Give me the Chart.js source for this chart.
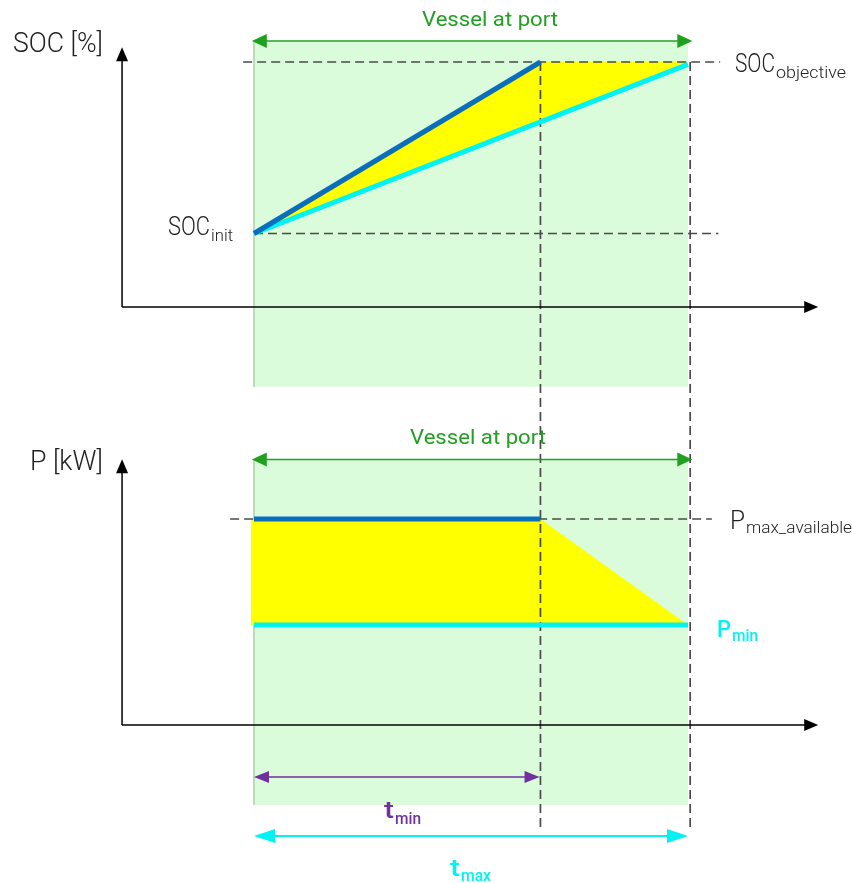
<!DOCTYPE html>
<html><head><meta charset="utf-8">
<script src="https://cdn.jsdelivr.net/npm/chart.js@4.4.1/dist/chart.umd.min.js"></script>
<style>html,body{margin:0;padding:0;background:#fff}#wrap{width:852px;height:883px}</style>
</head><body><div id="wrap"><canvas id="c" width="852" height="883"></canvas></div>
<script>
// ---- data (schematic units) ----
const timePoints = [0, 6.6, 10];          // t=0 (arrival), t_min, t_max
const socLevels = [30, 100];              // SOC_init, SOC_objective  [%]
const pLevels = [100, 48.5];              // P_max_available, P_min  [kW]
const socFastT = [0, 6.6], socFastV = [30, 100];
const socSlowT = [0, 10],  socSlowV = [30, 99];
const pFastT = [0, 6.6],   pFastV = [100, 100];
const pSlowT = [0, 10],    pSlowV = [48.5, 48.5];
const labels = ['SOC [%]', 'P [kW]', 'Vessel at port'];

const pts = (xs, ys) => xs.map((x, i) => ({x, y: ys[i]}));
const C = {dark:'#0A6EBD', cyan:'#00F2F2', yellow:'#FFFF00', green:'#DAFCDA', greenDark:'#1FA01F', purple:'#7030A0', dash:'#4A4A4A'};

function lineDs(data, axis, color, width, order, dash) {
  return {type:'scatter', data, yAxisID:axis, showLine:true, borderColor:color, borderWidth:width,
    pointRadius:0, fill:false, order, borderDash:dash||[], borderCapStyle:'butt', clip:false, tension:0};
}
function shapeDs(data, axis, color, order) {
  return {type:'scatter', data, yAxisID:axis, showLine:true, borderWidth:0, borderColor:'rgba(0,0,0,0)',
    backgroundColor:color, pointRadius:0, fill:'shape', order, clip:false, tension:0};
}
const [t0, tMin, tMax] = timePoints;
const [socInit, socObj] = socLevels;
const [pMaxA, pMin] = pLevels;

const datasets = [
  // port windows (green)
  shapeDs(pts([t0, tMax, tMax, t0], [108.2, 108.2, -32.6, -32.6]), 'ySoc', C.green, 20),
  shapeDs(pts([t0, tMax, tMax, t0], [128.6, 128.6, -38.8, -38.8]), 'yP', C.green, 20),
  lineDs(pts([t0, t0], [108.2, -32.6]), 'ySoc', '#B5D5B5', 1, 19),
  lineDs(pts([t0, t0], [128.6, -38.8]), 'yP', '#B5D5B5', 1, 19),
  // flexibility (yellow)
  shapeDs(pts([socFastT[0], socFastT[1], socSlowT[1]], [socFastV[0], socFastV[1], socObj]), 'ySoc', C.yellow, 15),
  shapeDs(pts([-0.07, tMin, tMax, -0.07], [pMaxA, pMaxA, pMin, pMin]), 'yP', C.yellow, 15),
  // dashed references
  lineDs(pts([-0.25, 10.74], [socObj, socObj]), 'ySoc', C.dash, 1.7, 10, [9, 5]),
  lineDs(pts([t0, 10.7], [socInit, socInit]), 'ySoc', C.dash, 1.7, 10, [9, 5]),
  lineDs(pts([-0.55, 10.55], [pMaxA, pMaxA]), 'yP', C.dash, 1.7, 10, [9, 5]),
  lineDs(pts([tMin, tMin], [socObj, -213.5]), 'ySoc', C.dash, 1.7, 10, [9, 5]),
  lineDs(pts([10.05, 10.05], [socObj, -213.5]), 'ySoc', C.dash, 1.7, 10, [9, 5]),
  // trajectories
  lineDs(pts(socSlowT, socSlowV), 'ySoc', C.cyan, 5, 3),
  lineDs(pts(socFastT, socFastV), 'ySoc', C.dark, 5, 2),
  lineDs(pts(pSlowT, pSlowV), 'yP', C.cyan, 5, 3),
  lineDs(pts(pFastT, pFastV), 'yP', C.dark, 5, 2),
];

function head(ctx, x, y, dir, len, w, color) {
  ctx.save(); ctx.fillStyle = color; ctx.beginPath();
  if (dir === 'up') { ctx.moveTo(x, y); ctx.lineTo(x - w/2, y + len); ctx.lineTo(x + w/2, y + len); }
  if (dir === 'right') { ctx.moveTo(x, y); ctx.lineTo(x - len, y - w/2); ctx.lineTo(x - len, y + w/2); }
  if (dir === 'left') { ctx.moveTo(x, y); ctx.lineTo(x + len, y - w/2); ctx.lineTo(x + len, y + w/2); }
  ctx.closePath(); ctx.fill(); ctx.restore();
}
function seg(ctx, x1, y1, x2, y2, color, w) {
  ctx.save(); ctx.strokeStyle = color; ctx.lineWidth = w; ctx.beginPath();
  ctx.moveTo(x1, y1); ctx.lineTo(x2, y2); ctx.stroke(); ctx.restore();
}
function dbl(ctx, x1, x2, y, color, w, len, hw) {
  seg(ctx, x1 + len - 2, y, x2 - len + 2, y, color, w);
  head(ctx, x1, y, 'left', len, hw, color); head(ctx, x2, y, 'right', len, hw, color);
}
function txt(ctx, s, x, y, size, color, weight, align, width) {
  ctx.save(); ctx.font = `${weight} ${size}px Roboto`; ctx.fillStyle = color; ctx.textBaseline = 'alphabetic';
  const m = ctx.measureText(s).width; const sx = width ? width / m : 1;
  let left = x; if (align === 'right') left = x - m * sx; if (align === 'center') left = x - m * sx / 2;
  ctx.translate(left, y); ctx.scale(sx, 1); ctx.fillText(s, 0, 0); ctx.restore();
  return left + m * sx;
}

const overlay = {
  id: 'overlay',
  afterDatasetsDraw(chart) {
    const ctx = chart.ctx, sx = chart.scales.x, ys = chart.scales.ySoc, yp = chart.scales.yP;
    const X = v => sx.getPixelForValue(v), YS = v => ys.getPixelForValue(v), YP = v => yp.getPixelForValue(v);
    const ax = X(-3.04), axEnd = X(13.0);
    // SOC axes
    seg(ctx, ax, YS(0), ax, YS(104), '#000', 1.5); head(ctx, ax, YS(106), 'up', 14, 12, '#000');
    seg(ctx, ax, YS(0), axEnd - 12, YS(0), '#000', 1.5); head(ctx, axEnd, YS(0), 'right', 14, 12, '#000');
    // P axes
    seg(ctx, ax, YP(0), ax, YP(124), '#000', 1.5); head(ctx, ax, YP(129), 'up', 14, 12, '#000');
    seg(ctx, ax, YP(0), axEnd - 12, YP(0), '#000', 1.5); head(ctx, axEnd, YP(0), 'right', 14, 12, '#000');
    // port window arrows
    dbl(ctx, X(-0.05), X(10.1), YS(108.6), C.greenDark, 1.5, 15, 14);
    dbl(ctx, X(-0.05), X(10.1), YP(128.9), C.greenDark, 1.5, 15, 14);
    // t arrows
    dbl(ctx, X(0), X(tMin - 0.02), YP(-25.2), C.purple, 1.5, 15, 12);
    dbl(ctx, X(0), X(tMax), YP(-53.9), C.cyan, 2, 21, 14);
    // texts
    txt(ctx, labels[0], 13, 52, 27, '#222', 300, 'left', 90);
    txt(ctx, labels[1], 30, 470, 27, '#222', 300, 'left', 73);
    txt(ctx, labels[2], 490, 26, 21, '#22A022', 400, 'center', 136);
    txt(ctx, labels[2], 478, 444, 21, '#22A022', 400, 'center', 136);
    let e = txt(ctx, 'SOC', 735, 72, 25, '#222', 300, 'left', 40);
    txt(ctx, 'objective', e + 1, 78, 17, '#222', 300, 'left', 70);
    e = txt(ctx, 'SOC', 168, 235, 25, '#222', 300, 'left', 42);
    txt(ctx, 'init', e + 1, 241, 17, '#222', 300, 'left', 22);
    e = txt(ctx, 'P', 730, 529, 25, '#222', 300, 'left', 15);
    txt(ctx, 'max_available', e + 1, 533, 17, '#222', 300, 'left', 106);
    e = txt(ctx, 'P', 717, 637, 24, C.cyan, 500, 'left', 14);
    txt(ctx, 'min', e + 1, 641, 17, C.cyan, 500, 'left', 26);
    e = txt(ctx, 't', 384, 818, 24, C.purple, 500, 'left', 10);
    txt(ctx, 'min', e + 1, 824, 17, C.purple, 500, 'left', 26);
    e = txt(ctx, 't', 450, 876, 24, C.cyan, 500, 'left', 10);
    txt(ctx, 'max', e + 1, 881, 17, C.cyan, 500, 'left', 30);
  }
};

new Chart(document.getElementById('c'), {
  type: 'scatter',
  data: {datasets},
  options: {
    responsive: false, animation: false, events: [],
    layout: {padding: 0},
    plugins: {legend: {display: false}, tooltip: {enabled: false}, title: {display: false}},
    scales: {
      x: {type: 'linear', display: false, min: -254 / 43.4, max: 598 / 43.4},
      ySoc: {type: 'linear', display: false, min: -(883 - 307) / 2.45, max: 307 / 2.45},
      yP: {type: 'linear', display: false, min: -(883 - 725) / 2.06, max: 725 / 2.06}
    }
  },
  plugins: [overlay]
});
</script></body></html>
